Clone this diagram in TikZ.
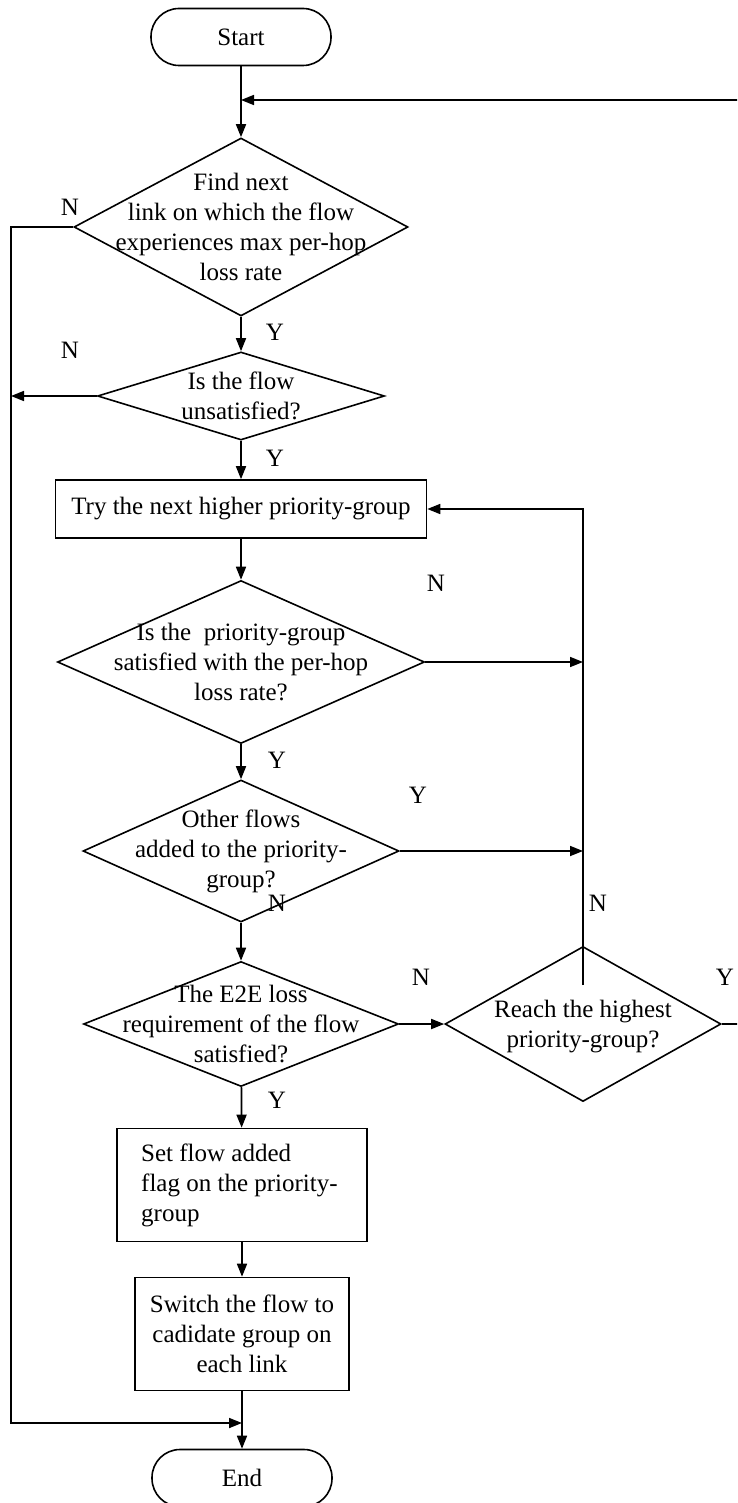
\documentclass[tikz,border=0pt]{standalone}
\usepackage{fontspec}
\setmainfont{Liberation Serif}
\usetikzlibrary{shapes.geometric,arrows.meta}
\begin{document}
\begin{tikzpicture}[x=1pt,y=-1pt,
  every node/.style={font=\fontsize{25}{30}\selectfont, text=black},
  terminal/.style={draw, line width=1.6pt, rounded corners=28pt,
    minimum width=180pt, minimum height=57pt, inner sep=0pt},
  proc/.style={draw, line width=1.6pt, inner sep=0pt},
  dia/.style={draw, diamond, line width=1.6pt, inner sep=0pt},
  txt/.style={align=center, inner sep=0pt},
  lbl/.style={inner sep=0pt},
  flow/.style={line width=1.7pt, -{Triangle[length=13pt,width=10pt]}}]

\useasboundingbox (0,0) rectangle (737,1503);
\fill[white] (0,0) rectangle (737,1503);
\clip (0,0) rectangle (737,1503);

% terminals
\node[terminal] (start) at (241,37) {Start};
\node[terminal] (end) at (242,1478) {End};

% decisions (outline) and their texts
\node[dia, minimum width=334pt, minimum height=178pt] (d1) at (241,227) {};
\node[txt] (d1t) at (d1.center) {Find next\\link on which the flow\\experiences max per-hop\\loss rate};

\node[dia, minimum width=287pt, minimum height=88pt] (d2) at (241,396) {};
\node[txt] (d2t) at (d2.center) {Is the flow\\unsatisfied?};

\node[proc, minimum width=371pt, minimum height=58pt] (try) at (241,509) {Try the next higher priority-group};

\node[dia, minimum width=367pt, minimum height=163pt] (d3) at (241,662) {};
\node[txt] (d3t) at (d3.center) {Is the~ priority-group\\satisfied with the per-hop\\loss rate?};

\node[dia, minimum width=316pt, minimum height=142pt] (d4) at (241,851) {};
\node[txt] (d4t) at (d4.center) {Other flows\\added to the priority-\\group?};

\node[dia, minimum width=315pt, minimum height=125pt] (d5) at (241,1024) {};
\node[txt] (d5t) at (d5.center) {The E2E loss\\requirement of the flow\\satisfied?};

\node[dia, minimum width=276pt, minimum height=155pt] (d6) at (583,1024) {};
\node[txt] (d6t) at ([yshift=-3pt]d6.center) {Reach the highest\\priority-group?};

% actions
\node[proc, minimum width=250pt, minimum height=113pt] (setf) at (242,1185) {};
\node[inner sep=0pt, align=left, anchor=west] (setft) at (141,1185) {Set flow added\\flag on the priority-\\group};
\node[proc, minimum width=214pt, minimum height=113pt] (sw) at (242,1334) {};
\node[txt] (swt) at (sw.center) {Switch the flow to\\cadidate group on\\each link};

% branch labels
\node[lbl] (n1) at (70,207) {N};
\node[lbl] (y1) at (275,332) {Y};
\node[lbl] (n2) at (70,350) {N};
\node[lbl] (y2) at (275,458) {Y};
\node[lbl] (n3) at (436,583) {N};
\node[lbl] (y3) at (277,760) {Y};
\node[lbl] (y4) at (418,795) {Y};
\node[lbl] (n4) at (277,903) {N};
\node[lbl] (n6) at (598,903) {N};
\node[lbl] (n5) at (421,977) {N};
\node[lbl] (y6) at (725,977) {Y};
\node[lbl] (y5) at (277,1100) {Y};

% helper points for the routed connectors
\coordinate (lb) at (11,1423);
\coordinate (join) at (242,1423);
\coordinate (rl) at (583,509);
\coordinate (d6in) at (583,985);
\coordinate (fbR) at (760,100);
\coordinate (fbL) at (241,100);

% main column
\draw[flow] (start) -- (d1);
\draw[flow] (d1) -- (d2);
\draw[flow] (d2) -- (try);
\draw[flow] (try) -- (d3);
\draw[flow] (d3) -- (d4);
\draw[flow] (d4) -- (d5);
\draw[flow] (d5) -- (setf);
\draw[flow] (setf) -- (sw);
\draw[flow] (sw) -- (end);

% left bypass to the end
\draw[flow] (d1.west) -- (d1.west -| lb) -- (lb) -- (join);
\draw[flow] (d2.west) -- (d2.west -| lb);

% right loop back to the next priority-group
\draw[flow] (d3.east) -- (d3.east -| rl);
\draw[flow] (d4.east) -- (d4.east -| rl);
\draw[flow] (d5.east) -- (d6.west);
\draw[flow] (d6in) -- (rl) -- (try.east);

% return to the next link
\draw[flow] (d6.east) -- (d6.east -| fbR) -- (fbR) -- (fbL);
\end{tikzpicture}
\end{document}
